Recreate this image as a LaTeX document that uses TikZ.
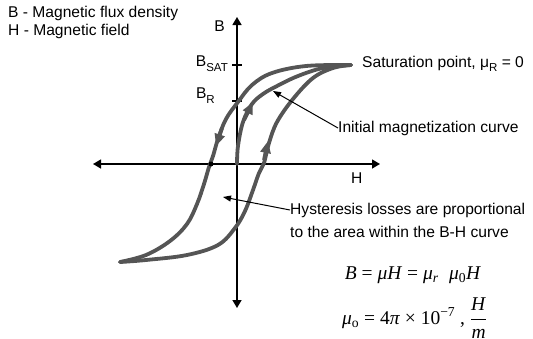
\documentclass[tikz,border=0pt]{standalone}
\usepackage{fontspec}
\setmainfont{Liberation Sans}
\newfontfamily\serifeq{Liberation Serif}
\usetikzlibrary{arrows.meta}
\definecolor{curvegray}{RGB}{85,85,85}
\begin{document}
\begin{tikzpicture}[x=1pt,y=-1pt,
  axisline/.style={line width=1.4pt, {Triangle[length=8pt,width=9pt]}-{Triangle[length=8pt,width=9pt]}},
  tickline/.style={line width=2pt},
  loopcurve/.style={draw=curvegray, line width=3.8pt, line join=round, line cap=round},
  arrowcurve/.style={draw=curvegray, line width=3.8pt, line join=round, -{Triangle[length=12pt,width=10pt]}},
  txt/.style={font=\fontsize{15.6}{17}\selectfont, inner sep=0pt},
  pointer/.style={line width=1pt, -{Triangle[length=8pt,width=6pt]}},
  eqtxt/.style={font=\serifeq\fontsize{19.5}{21}\selectfont, inner sep=0pt}]
\useasboundingbox (0,0) rectangle (533,338);

% legend
\node[txt, anchor=west] (legB) at (8,13) {B - Magnetic flux density};
\node[txt, anchor=west] (legH) at (8,31) {H - Magnetic field};

% axes
\coordinate (Btop) at (237,17);
\coordinate (Bbot) at (237,308);
\coordinate (Hl) at (93,164);
\coordinate (Hr) at (380,164);
\draw[axisline] (Bbot) -- (Btop);
\draw[axisline] (Hl) -- (Hr);
\node[txt, anchor=east] (Blab) at (225,26) {B};
\node[txt, anchor=west] (Hlab) at (351,178) {H};

% ticks
\coordinate (sat) at (237,65);
\coordinate (rem) at (237,101);
\draw[tickline] ([xshift=-5pt]sat) -- ([xshift=5pt]sat);
\draw[tickline] ([xshift=-5pt]rem) -- ([xshift=5pt]rem);
\node[txt, anchor=east] (Bsat) at (228,64) {B\raisebox{-5pt}{\fontsize{11.5}{12}\selectfont SAT}};
\node[txt, anchor=east] (Brem) at (215,96) {B\raisebox{-5pt}{\fontsize{11.5}{12}\selectfont R}};

% hysteresis loop: descending branch
\coordinate (top) at (351,65);
\coordinate (bot) at (120,262);
\draw[loopcurve] plot[smooth, tension=0.6] coordinates {
  (351,65) (306,66) (272,73) (252,85) (238,102) (226,119) (218,139) (213,156)
  (209,167) (204,184) (197,204) (187,224) (170,241) (146,255) (120,262)};
% ascending branch
\draw[loopcurve] plot[smooth, tension=0.6] coordinates {
  (120,262) (146,260) (187,255) (218,245) (235,228) (245,211) (253,190) (259,173)
  (264,163) (269,143) (277,122) (293,99) (313,78) (333,68) (351,65)};
% initial magnetization curve
\draw[loopcurve] plot[smooth, tension=0.6] coordinates {
  (237,164) (238,146) (243,122) (252,104) (263,94) (277,86) (298,76) (323,68) (351,65)};
% direction arrows
\draw[arrowcurve] (222,128) -- (216,146);
\draw[arrowcurve] (244,120) -- (253,102);
\draw[arrowcurve] (264,160) -- (268,141);
\fill (211,164) circle (2.5pt);

% annotations
\node[txt, anchor=west] (satlab) at (362,64) {Saturation point, μ\raisebox{-4pt}{\fontsize{11.5}{12}\selectfont R} = 0};
\node[txt, anchor=west] (initlab) at (338,128) {Initial magnetization curve};
\coordinate (initpt) at (273,91);
\draw[pointer] (initlab.west) -- (initpt);
\node[txt, anchor=west] (hystA) at (290,210) {Hysteresis losses are proportional};
\node[txt, anchor=west] (hystB) at (290,232) {to the area within the B-H curve};
\coordinate (hystpt) at (223,197);
\draw[pointer] (hystA.west) -- (hystpt);

% equations
\node[eqtxt] (eq1) at (413,275) {\textit{B} = \textit{μH} = \textit{μ}\textsubscript{\textit{r}}\; \textit{μ}\textsubscript{0}\textit{H}};
\node[eqtxt, anchor=west] (eq2) at (342,318) {\textit{μ}\textsubscript{o} = 4\textit{π} × 10\textsuperscript{−7} , ${\displaystyle\frac{\mbox{\textit{H}}}{\mbox{\textit{m}}}}$};
\end{tikzpicture}
\end{document}
